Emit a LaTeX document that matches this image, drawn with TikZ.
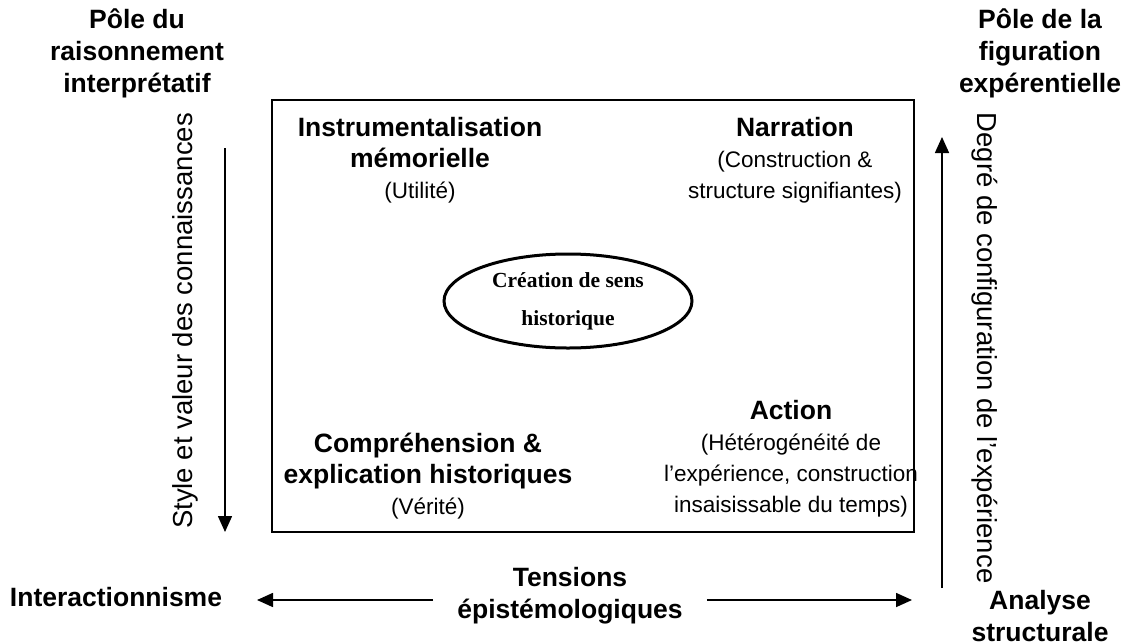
\documentclass[tikz,border=0pt]{standalone}
\usepackage{fontspec}
\setmainfont{Liberation Sans}
\newfontfamily\serifb{Liberation Serif}
\usetikzlibrary{arrows.meta,shapes.geometric}
\newcommand\bl[1]{{\fontsize{26.5}{31}\selectfont\bfseries #1}}
\tikzset{
  bt/.style={font=\fontsize{26.5}{32}\selectfont\bfseries, align=center, inner sep=0pt},
  rt/.style={font=\fontsize{22.5}{31}\selectfont, align=center, inner sep=0pt},
  vt/.style={font=\fontsize{27.5}{31}\selectfont, inner sep=0pt},
  arr/.style={line width=1.6pt, -{Triangle[length=16pt,width=14pt]}},
}
\begin{document}
\begin{tikzpicture}[x=1pt,y=-1pt]
\useasboundingbox (0,0) rectangle (1126,643);
% frame
\draw[line width=1.6pt] (272,100) rectangle (914,532);
% titles
\node[bt] (lpole) at (137,53) {Pôle du\\raisonnement\\interprétatif};
\node[bt] (rpole) at (1040,53) {Pôle de la\\figuration\\expérentielle};
% inside
\node[rt] (instr) at (420,160) {\bl{Instrumentalisation}\\\bl{mémorielle}\\(Utilité)};
\node[rt] (narr) at (795,160) {\bl{Narration}\\(Construction \&\\structure signifiantes)};
\node[draw, ellipse, line width=3pt, minimum width=248pt, minimum height=94pt,
      font=\serifb\fontsize{21.5}{38}\selectfont\bfseries, align=center, inner sep=0pt] (sens) at (568,301) {Création de sens\\historique};
\node[rt] (act) at (791,459) {\bl{Action}\\(Hétérogénéité de\\l’expérience, construction\\insaisissable du temps)};
\node[rt] (comp) at (428,476) {\bl{Compréhension \&}\\\bl{explication historiques}\\(Vérité)};
% vertical axes
\coordinate (la1) at (225,148);
\coordinate (la2) at (225,532);
\draw[arr] (la1) -- (la2);
\node[vt, rotate=90] (style) at (185,321) {Style et valeur des connaissances};
\coordinate (ra1) at (942,588);
\coordinate (ra2) at (942,137);
\draw[arr] (ra1) -- (ra2);
\node[vt, rotate=-90] (degre) at (985,348) {Degré de configuration de l’expérience};
% bottom
\node[bt] (inter) at (116,597) {Interactionnisme};
\node[bt] (tens) at (570,596) {Tensions\\épistémologiques};
\node[bt] (anal) at (1040,616) {Analyse\\structurale};
\coordinate (ba2) at (257,600);
\coordinate (bb2) at (912,600);
\draw[arr] ([xshift=-24pt]tens.west |- ba2) -- (ba2);
\draw[arr] ([xshift=24pt]tens.east |- bb2) -- (bb2);
\end{tikzpicture}
\end{document}
